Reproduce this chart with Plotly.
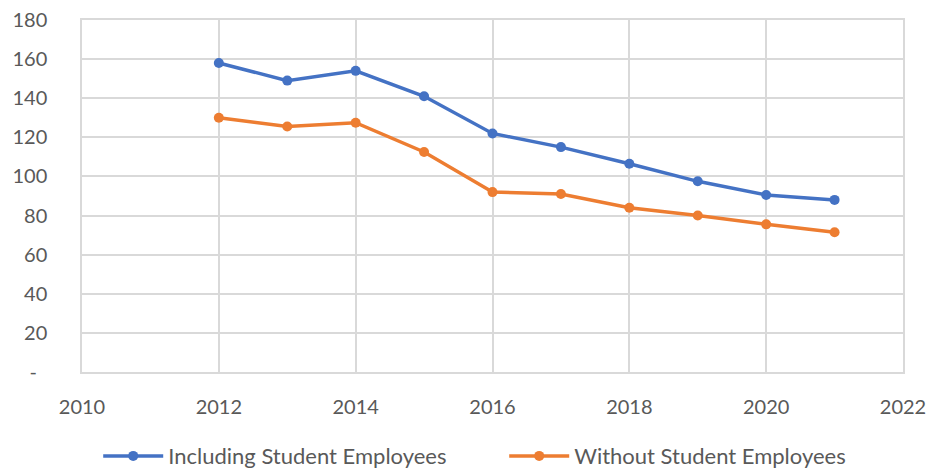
import plotly.graph_objects as go

years = [2012, 2013, 2014, 2015, 2016, 2017, 2018, 2019, 2020, 2021]
including = [158, 149, 154, 141, 122, 115, 106.5, 97.5, 90.5, 88]
without = [130, 125.5, 127.5, 112.5, 92, 91, 84, 80, 75.5, 71.5]
ytickvals = [0, 20, 40, 60, 80, 100, 120, 140, 160, 180]
yticktext = ["-\u00a0\u00a0", "20", "40", "60", "80", "100", "120", "140", "160", "180"]

fig = go.Figure()
fig.add_trace(go.Scatter(x=years, y=including, mode="lines+markers",
                         name="Including Student Employees",
                         line=dict(color="#4472C4", width=3.5),
                         marker=dict(size=10, color="#4472C4")))
fig.add_trace(go.Scatter(x=years, y=without, mode="lines+markers",
                         name="Without Student Employees",
                         line=dict(color="#ED7D31", width=3.5),
                         marker=dict(size=10, color="#ED7D31")))

grid = "#D9D9D9"
# page body has an 8px margin, so the figure is 930x461 and offsets are shifted
fig.update_layout(
    width=930, height=461,
    margin=dict(l=74, r=35, t=12, b=97, autoexpand=False),
    plot_bgcolor="white", paper_bgcolor="white",
    font=dict(family="Lato", size=20, color="#595959"),
    legend=dict(orientation="h", xref="container", x=0.097, xanchor="left",
                yref="container", y=0.028, yanchor="middle",
                font=dict(size=22), itemwidth=60, entrywidth=331,
                tracegroupgap=0),
    xaxis=dict(range=[2010, 2022], tickvals=list(range(2010, 2023, 2)),
               showgrid=True, gridcolor=grid, gridwidth=1.5,
               showline=True, mirror=True, linecolor=grid, linewidth=1.5,
               zeroline=False, ticks="", ticklabelstandoff=16,
               automargin=False, ticklabeloverflow="allow"),
    yaxis=dict(range=[0, 180], tickvals=ytickvals, ticktext=yticktext,
               showgrid=True, gridcolor=grid, gridwidth=1.5,
               showline=True, mirror=True, linecolor=grid, linewidth=1.5,
               zeroline=False, ticks="", ticklabelstandoff=29,
               automargin=False, ticklabeloverflow="allow"),
)
fig.write_html("out.html")
